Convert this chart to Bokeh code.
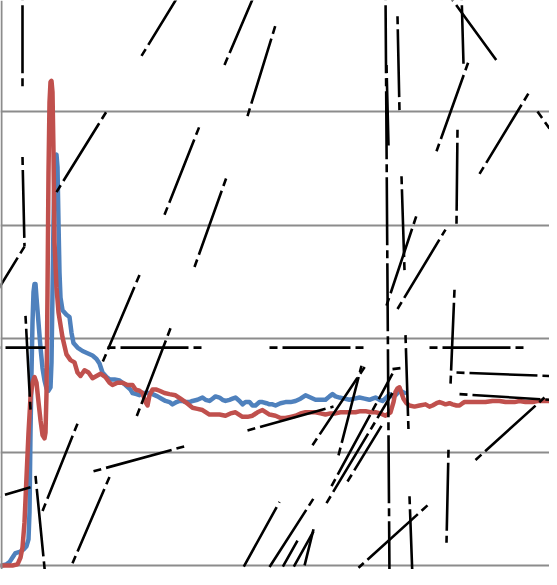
from bokeh.plotting import figure
from bokeh.models import Range1d, FixedTicker, Span, Grid
from bokeh.embed import file_html
from bokeh.resources import INLINE

# ---- data (x: sample index, y: value; gridlines at whole units) ----
grid_ticks = [0, 1, 2, 3, 4, 5]

red_x = [0, 11, 16, 19, 21, 23, 25, 27, 29, 31, 33, 35, 37, 39, 41, 43, 44, 45, 46, 47, 48, 49, 50, 51, 52, 53,
         55, 57, 61, 65, 69, 73, 76, 79, 83, 87, 91, 95, 99, 104, 108, 111, 116, 121, 126, 131, 134, 138, 141,
         144, 146, 148, 151, 155, 158, 163, 168, 174, 179, 184, 191, 196, 201, 208, 213, 218, 224, 229, 234,
         241, 246, 251, 256, 261, 268, 274, 279, 284, 289, 294, 299, 304, 309, 314, 319, 324, 329, 334, 339,
         344, 349, 354, 359, 364, 369, 374, 379, 384, 389, 392, 394, 396, 398, 400, 402, 405, 408, 413, 418,
         424, 428, 431, 435, 438, 441, 444, 448, 451, 455, 458, 461, 463, 467, 471, 477, 484, 491, 498, 504,
         509, 513, 518, 524, 531, 536, 541, 548]
red_y = [0, 0, 0.01, 0.07, 0.16, 0.38, 0.78, 1.17, 1.48, 1.61, 1.66, 1.61, 1.44, 1.28, 1.15, 1.12, 1.17, 1.52,
         2.41, 3.46, 4.08, 4.26, 4.27, 4.17, 3.64, 2.85, 2.45, 2.23, 2.01, 1.86, 1.81, 1.79, 1.70, 1.67, 1.72,
         1.70, 1.65, 1.67, 1.69, 1.66, 1.61, 1.59, 1.61, 1.61, 1.59, 1.59, 1.55, 1.54, 1.52, 1.44, 1.41, 1.50,
         1.55, 1.55, 1.54, 1.52, 1.51, 1.50, 1.47, 1.44, 1.39, 1.38, 1.37, 1.33, 1.33, 1.33, 1.32, 1.34, 1.35,
         1.31, 1.31, 1.32, 1.35, 1.37, 1.33, 1.32, 1.30, 1.30, 1.31, 1.32, 1.34, 1.35, 1.35, 1.35, 1.34, 1.33,
         1.34, 1.34, 1.35, 1.35, 1.35, 1.35, 1.36, 1.36, 1.35, 1.35, 1.34, 1.32, 1.35, 1.44, 1.53, 1.56, 1.57,
         1.52, 1.47, 1.43, 1.41, 1.40, 1.41, 1.42, 1.40, 1.41, 1.43, 1.44, 1.43, 1.42, 1.43, 1.42, 1.41, 1.41,
         1.43, 1.44, 1.44, 1.44, 1.44, 1.44, 1.45, 1.45, 1.44, 1.44, 1.44, 1.45, 1.44, 1.44, 1.45, 1.45, 1.45]

blue_x = [0, 5, 8, 11, 14, 18, 22, 25, 27, 28, 29, 30, 31, 32, 33, 34, 35, 37, 39, 41, 43, 45, 47, 49, 50, 51,
          52, 53, 54, 55, 56, 57, 58, 59, 61, 65, 68, 70, 72, 76, 81, 86, 91, 95, 98, 101, 105, 108, 113, 118,
          124, 129, 131, 135, 138, 141, 144, 148, 151, 156, 160, 164, 168, 171, 175, 178, 181, 184, 188, 191,
          196, 201, 204, 208, 211, 214, 218, 221, 224, 228, 231, 234, 238, 241, 244, 248, 251, 254, 258, 261,
          265, 268, 271, 274, 279, 284, 289, 294, 299, 304, 309, 314, 319, 324, 328, 331, 334, 338, 343, 348,
          353, 358, 363, 368, 371, 374, 378, 381, 385, 388, 391, 394, 396, 398, 401, 403]
blue_y = [0, 0.01, 0.03, 0.07, 0.11, 0.12, 0.14, 0.17, 0.23, 0.47, 1.17, 1.70, 2.14, 2.41, 2.48, 2.48, 2.36,
          2.14, 1.92, 1.74, 1.63, 1.56, 1.54, 1.57, 1.79, 2.41, 3.02, 3.42, 3.59, 3.62, 3.51, 3.02, 2.58, 2.36,
          2.25, 2.21, 2.19, 2.05, 1.96, 1.92, 1.89, 1.87, 1.85, 1.82, 1.78, 1.70, 1.66, 1.64, 1.64, 1.63, 1.59,
          1.55, 1.52, 1.51, 1.50, 1.52, 1.52, 1.52, 1.51, 1.49, 1.47, 1.45, 1.44, 1.42, 1.44, 1.45, 1.45, 1.44,
          1.44, 1.45, 1.46, 1.48, 1.46, 1.45, 1.47, 1.49, 1.48, 1.46, 1.45, 1.46, 1.47, 1.48, 1.45, 1.42, 1.44,
          1.44, 1.41, 1.41, 1.44, 1.44, 1.43, 1.42, 1.42, 1.41, 1.43, 1.44, 1.44, 1.45, 1.47, 1.50, 1.48, 1.46,
          1.46, 1.46, 1.49, 1.51, 1.49, 1.48, 1.47, 1.46, 1.47, 1.48, 1.47, 1.46, 1.47, 1.48, 1.46, 1.45, 1.48,
          1.51, 1.49, 1.50, 1.52, 1.54, 1.53, 1.52]

# dash-dot overlay strokes (start / end)
seg_x0 = [21, -9, 140, 223, 246, 55, 21, 23, 163, 193, 138, 169, 76, 108, 92, -9, 34, 24, 246, 384, 396, 385,
          400, 385, 396, 404, 435, 460, 447, 488, 456, 478, 536, 453, -9, 106, 268, 428, 455, 458, 474, 447,
          408, 426, 236, 261, 275, 286, 300, 311, 337, 330, 346, 325, 391, 14]
seg_y0 = [5.05, 4.41, 4.49, 4.41, 3.96, 3.29, 3.60, 2.81, 3.09, 2.63, 2.56, 2.09, 1.25, 0.78, 0.83, 0.59, 0.79,
          2.20, 1.19, 5.05, 4.84, 4.41, 3.43, 2.29, 2.26, 2.03, 3.65, 5.05, 5.03, 4.99, 3.84, 3.45, 4.00, 2.43,
          1.92, 1.92, 1.92, 1.92, 1.70, 1.51, 0.93, 1.02, 0.61, 0.53, -0.11, -0.11, -0.11, -0.11, -0.11, 1.06,
          0.97, 0.70, 0.74, 0.55, 1.73, -0.11]
seg_x1 = [21, -3, 179, 254, 274, 105, 23, -9, 198, 225, 101, 135, 41, 71, 183, 29, 44, 29, 332, 388, 398, 387,
          403, 416, 444, 407, 467, 462, 495, 492, 455, 527, 548, 449, 44, 204, 364, 524, 548, 548, 543, 445,
          411, 357, 278, 312, 296, 312, 312, 364, 360, 391, 380, 391, 400, 18]
seg_y1 = [4.19, 4.63, 5.05, 5.05, 4.76, 4.00, 2.81, 2.35, 3.87, 3.42, 1.79, 1.31, 0.48, 0.02, 1.05, 0.69, -0.11,
          1.37, 1.40, -0.11, 4.00, 3.70, 2.60, 3.11, 2.96, 1.19, 4.44, 4.42, 4.45, 5.05, 3.01, 4.16, 3.85, 1.59,
          1.92, 1.92, 1.92, 1.92, 1.67, 1.46, 1.48, 0.20, -0.11, -0.02, 0.56, 0.59, 0.22, 0.30, 0.32, 1.76,
          1.76, 1.69, 1.23, 1.52, 1.74, -0.02]

# ---- figure ----
p = figure(width=549, height=569, x_range=Range1d(-1, 548), y_range=Range1d(-0.035, 4.978),
           output_backend="svg", toolbar_location=None,
           x_axis_location=None, y_axis_location=None, min_border=0)
p.outline_line_color = None
p.background_fill_color = "white"
p.border_fill_color = "white"
p.xgrid.visible = False
p.ygrid.visible = False

p.add_layout(Grid(dimension=1, ticker=FixedTicker(ticks=grid_ticks),
                  grid_line_color="#8c8c8c", grid_line_width=2))
p.add_layout(Span(location=0, dimension="height", line_color="#8c8c8c", line_width=2))

p.line(blue_x, blue_y, line_color="#4F81BD", line_width=4.5, line_join="round", line_cap="round")
p.line(red_x, red_y, line_color="#C0504D", line_width=4.5, line_join="round", line_cap="round")

p.segment(seg_x0, seg_y0, seg_x1, seg_y1, line_color="black", line_width=2.6,
          line_dash="8 5 68 5")

open("out.html", "w").write(file_html(p, INLINE))
